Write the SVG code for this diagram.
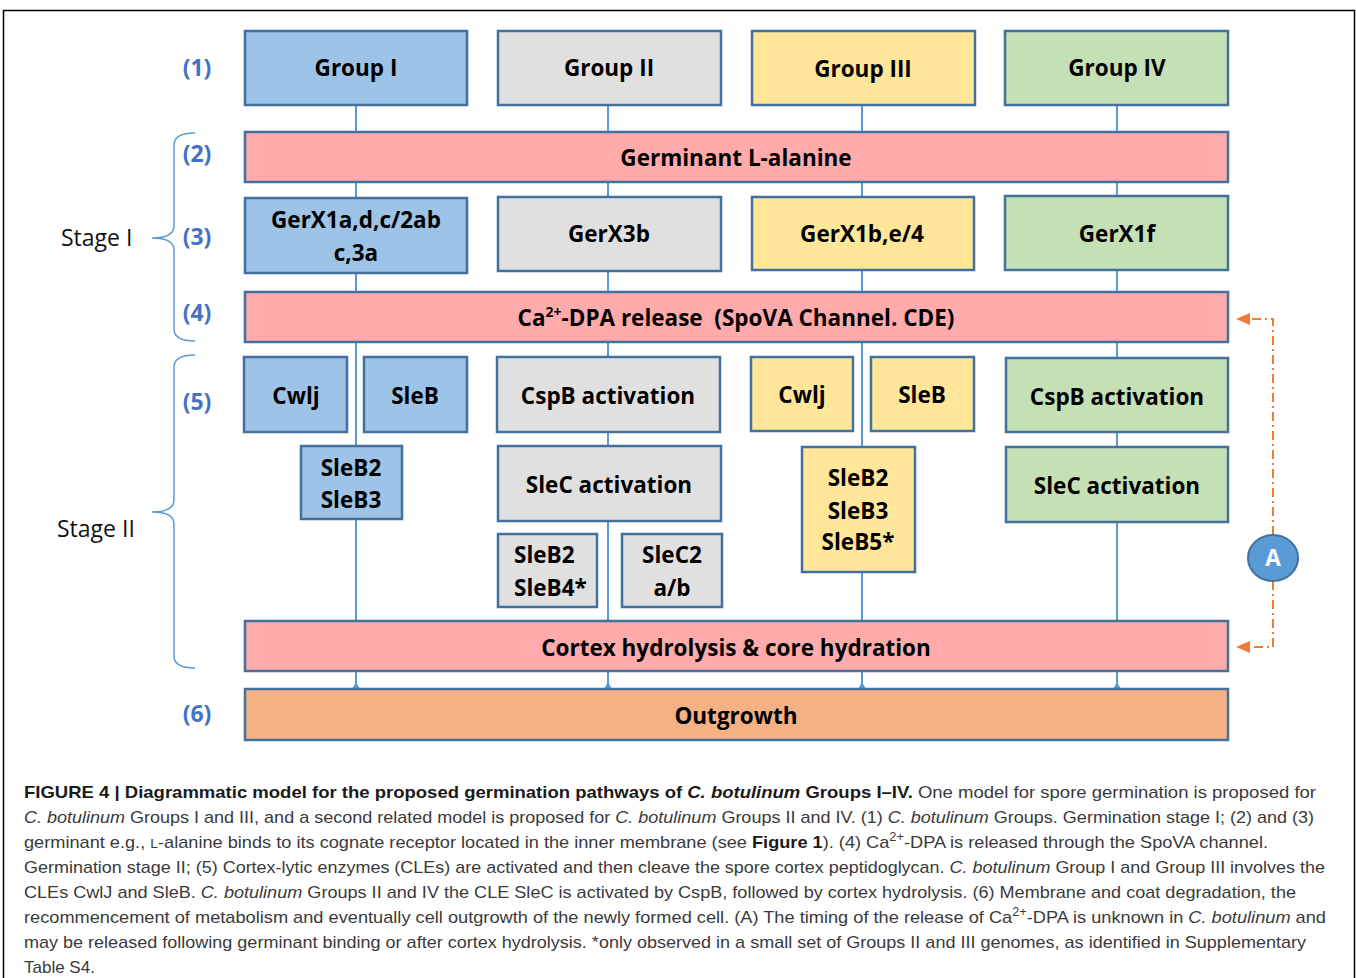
<svg xmlns="http://www.w3.org/2000/svg" width="1356" height="978" viewBox="0 0 1356 978">
<style>
.box{stroke:#41719C;stroke-width:2.5}
.blue{fill:#9DC3E6}.gray{fill:#E0E0E0}.yel{fill:#FFE699}.grn{fill:#C5E0B4}.pink{fill:#FFABAB}.org{fill:#F4B183}
.t{font-family:"Open Sans",Lato,sans-serif;font-weight:bold;font-size:22.5px;fill:#000;text-anchor:middle}
.ts{text-anchor:start}
.num{font-family:"Open Sans",Lato,sans-serif;font-weight:bold;font-size:23px;fill:#4472C4;text-anchor:middle}
.stage{font-family:"Open Sans",Lato,sans-serif;font-size:23px;fill:#111}
.con{stroke:#5B9BD5;stroke-width:2;fill:none}
.brace{stroke:#5B9BD5;stroke-width:1.5;fill:none}
.cap{font-family:"Liberation Sans",Arial,sans-serif;font-size:17px;fill:#3a3a3a}
.b{font-weight:bold;fill:#1a1a1a}
.i{font-style:italic}
.dash{stroke:#ED7D31;stroke-width:2;fill:none;stroke-dasharray:9 4 2 4}
</style>
<defs>
<marker id="tri" markerWidth="8" markerHeight="8" refX="0" refY="4" orient="auto" markerUnits="userSpaceOnUse"><path d="M0,0 L7,4 L0,8 z" fill="#5B9BD5"/></marker>
<marker id="oarr" markerWidth="14" markerHeight="12" refX="12" refY="6" orient="auto" markerUnits="userSpaceOnUse"><path d="M0,0 L14,6 L0,12 z" fill="#ED7D31"/></marker>
</defs>
<rect x="3.5" y="10.5" width="1351" height="1000" fill="#fff" stroke="#000" stroke-width="1.5"/>

<g id="connectors">
<path class="con" d="M356,105 V132 M356,182 V198 M356,273 V292 M356,342 V446 M356,519 V621"/>
<path class="con" d="M608,105 V132 M608,182 V197 M608,271 V292 M608,342 V357 M608,432 V446 M608,521 V621"/>
<path class="con" d="M862,105 V132 M862,182 V197 M862,270 V292 M862,342 V447 M862,572 V621"/>
<path class="con" d="M1117,105 V132 M1117,182 V196 M1117,270 V292 M1117,342 V358 M1117,432 V447 M1117,522 V621"/>
<path class="con" d="M356,689 V671" marker-start="url(#tri)"/>
<path class="con" d="M608,689 V671" marker-start="url(#tri)"/>
<path class="con" d="M862,689 V671" marker-start="url(#tri)"/>
<path class="con" d="M1117,689 V671" marker-start="url(#tri)"/>
<path class="dash" d="M1273,535 V319 H1238" marker-end="url(#oarr)"/>
<path class="dash" d="M1273,581 V647 H1238" marker-end="url(#oarr)"/>
</g>

<g id="braces">
<path class="brace" d="M195,133 Q174,133 174,145 V226 Q174,238 152,238 Q174,238 174,250 V329 Q174,341 195,341"/>
<path class="brace" d="M195,355 Q174,355 174,367 V500 Q174,512 152,512 Q174,512 174,524 V656 Q174,668 195,668"/>
</g>

<g id="labels">
<text class="num" x="197" y="76">(1)</text>
<text class="num" x="197" y="162">(2)</text>
<text class="num" x="197" y="245">(3)</text>
<text class="num" x="197" y="321">(4)</text>
<text class="num" x="197" y="410">(5)</text>
<text class="num" x="197" y="722">(6)</text>
<text class="stage" x="61" y="246">Stage I</text>
<text class="stage" x="57" y="537">Stage II</text>
</g>

<g id="group1"><rect class="box blue" x="245" y="31" width="222" height="74"/><text class="t" x="356" y="76">Group I</text></g>
<g id="group2"><rect class="box gray" x="498" y="31" width="223" height="74"/><text class="t" x="609" y="76">Group II</text></g>
<g id="group3"><rect class="box yel" x="752" y="31" width="223" height="74"/><text class="t" x="863" y="77">Group III</text></g>
<g id="group4"><rect class="box grn" x="1005" y="31" width="223" height="74"/><text class="t" x="1117" y="76">Group IV</text></g>

<g id="germinant"><rect class="box pink" x="245" y="132" width="983" height="50"/><text class="t" x="736" y="166">Germinant L-alanine</text></g>

<g id="gerx1a"><rect class="box blue" x="245" y="198" width="222" height="75"/><text class="t" x="356" y="228">GerX1a,d,c/2ab</text><text class="t" x="356" y="261">c,3a</text></g>
<g id="gerx3b"><rect class="box gray" x="498" y="197" width="223" height="74"/><text class="t" x="609" y="242">GerX3b</text></g>
<g id="gerx1b"><rect class="box yel" x="752" y="197" width="222" height="73"/><text class="t" x="862" y="242">GerX1b,e/4</text></g>
<g id="gerx1f"><rect class="box grn" x="1005" y="196" width="223" height="74"/><text class="t" x="1117" y="242">GerX1f</text></g>

<g id="cadpa"><rect class="box pink" x="245" y="292" width="983" height="50"/><text class="t" x="736" y="326">Ca<tspan font-size="14" dy="-9">2+</tspan><tspan dy="9">-DPA release&#160; (SpoVA Channel. CDE)</tspan></text></g>

<g id="cwlj1"><rect class="box blue" x="244" y="357" width="103" height="75"/><text class="t" x="296" y="404">Cwlj</text></g>
<g id="sleb1"><rect class="box blue" x="364" y="357" width="103" height="75"/><text class="t" x="415" y="404">SleB</text></g>
<g id="cspb2"><rect class="box gray" x="497" y="357" width="223" height="75"/><text class="t" x="608" y="404">CspB activation</text></g>
<g id="cwlj3"><rect class="box yel" x="751" y="357" width="102" height="74"/><text class="t" x="802" y="403">Cwlj</text></g>
<g id="sleb3"><rect class="box yel" x="871" y="357" width="103" height="74"/><text class="t" x="922" y="403">SleB</text></g>
<g id="cspb4"><rect class="box grn" x="1006" y="358" width="222" height="74"/><text class="t" x="1117" y="405">CspB activation</text></g>

<g id="sleb23"><rect class="box blue" x="301" y="446" width="101" height="73"/><text class="t" x="351" y="476">SleB2</text><text class="t" x="351" y="508">SleB3</text></g>
<g id="slec2"><rect class="box gray" x="498" y="446" width="223" height="75"/><text class="t" x="609" y="493">SleC activation</text></g>
<g id="sleb235"><rect class="box yel" x="802" y="447" width="113" height="125"/><text class="t" x="858" y="486">SleB2</text><text class="t" x="858" y="519">SleB3</text><text class="t" x="858" y="550">SleB5*</text></g>
<g id="slec4"><rect class="box grn" x="1006" y="447" width="222" height="75"/><text class="t" x="1117" y="494">SleC activation</text></g>
<g id="sleb24"><rect class="box gray" x="498" y="534" width="99" height="73"/><text class="t ts" x="514" y="563">SleB2</text><text class="t ts" x="514" y="596">SleB4*</text></g>
<g id="slec2ab"><rect class="box gray" x="622" y="534" width="100" height="73"/><text class="t" x="672" y="563">SleC2</text><text class="t" x="672" y="596">a/b</text></g>

<g id="cortex"><rect class="box pink" x="245" y="621" width="983" height="50"/><text class="t" x="736" y="656">Cortex hydrolysis &amp; core hydration</text></g>
<g id="outgrowth"><rect class="box org" x="245" y="689" width="983" height="51"/><text class="t" x="736" y="724">Outgrowth</text></g>

<g id="circleA"><ellipse cx="1273" cy="558" rx="25" ry="23" fill="#5B9BD5" stroke="#41719C" stroke-width="2"/><text class="t" x="1273" y="566" style="fill:#fff">A</text></g>

<g id="caption">
<text class="cap" x="24" y="798" textLength="1292" lengthAdjust="spacingAndGlyphs"><tspan class="b">FIGURE 4 | Diagrammatic model for the proposed germination pathways of </tspan><tspan class="b i">C. botulinum</tspan><tspan class="b"> Groups I–IV.</tspan> One model for spore germination is proposed for</text>
<text class="cap" x="24" y="823" textLength="1290" lengthAdjust="spacingAndGlyphs"><tspan class="i">C. botulinum</tspan> Groups I and III, and a second related model is proposed for <tspan class="i">C. botulinum</tspan> Groups II and IV. (1) <tspan class="i">C. botulinum</tspan> Groups. Germination stage I; (2) and (3)</text>
<text class="cap" x="24" y="848" textLength="1244" lengthAdjust="spacingAndGlyphs">germinant e.g., <tspan font-size="13">L</tspan>-alanine binds to its cognate receptor located in the inner membrane (see <tspan class="b">Figure 1</tspan>). (4) Ca<tspan font-size="12" dy="-7">2+</tspan><tspan dy="7">-DPA is released through the SpoVA channel.</tspan></text>
<text class="cap" x="24" y="873" textLength="1301" lengthAdjust="spacingAndGlyphs">Germination stage II; (5) Cortex-lytic enzymes (CLEs) are activated and then cleave the spore cortex peptidoglycan. <tspan class="i">C. botulinum</tspan> Group I and Group III involves the</text>
<text class="cap" x="24" y="898" textLength="1272" lengthAdjust="spacingAndGlyphs">CLEs CwlJ and SleB. <tspan class="i">C. botulinum</tspan> Groups II and IV the CLE SleC is activated by CspB, followed by cortex hydrolysis. (6) Membrane and coat degradation, the</text>
<text class="cap" x="24" y="923" textLength="1302" lengthAdjust="spacingAndGlyphs">recommencement of metabolism and eventually cell outgrowth of the newly formed cell. (A) The timing of the release of Ca<tspan font-size="12" dy="-7">2+</tspan><tspan dy="7">-DPA is unknown in </tspan><tspan class="i">C. botulinum</tspan> and</text>
<text class="cap" x="24" y="948" textLength="1282" lengthAdjust="spacingAndGlyphs">may be released following germinant binding or after cortex hydrolysis. *only observed in a small set of Groups II and III genomes, as identified in Supplementary</text>
<text class="cap" x="24" y="973">Table S4.</text>
</g>
</svg>
